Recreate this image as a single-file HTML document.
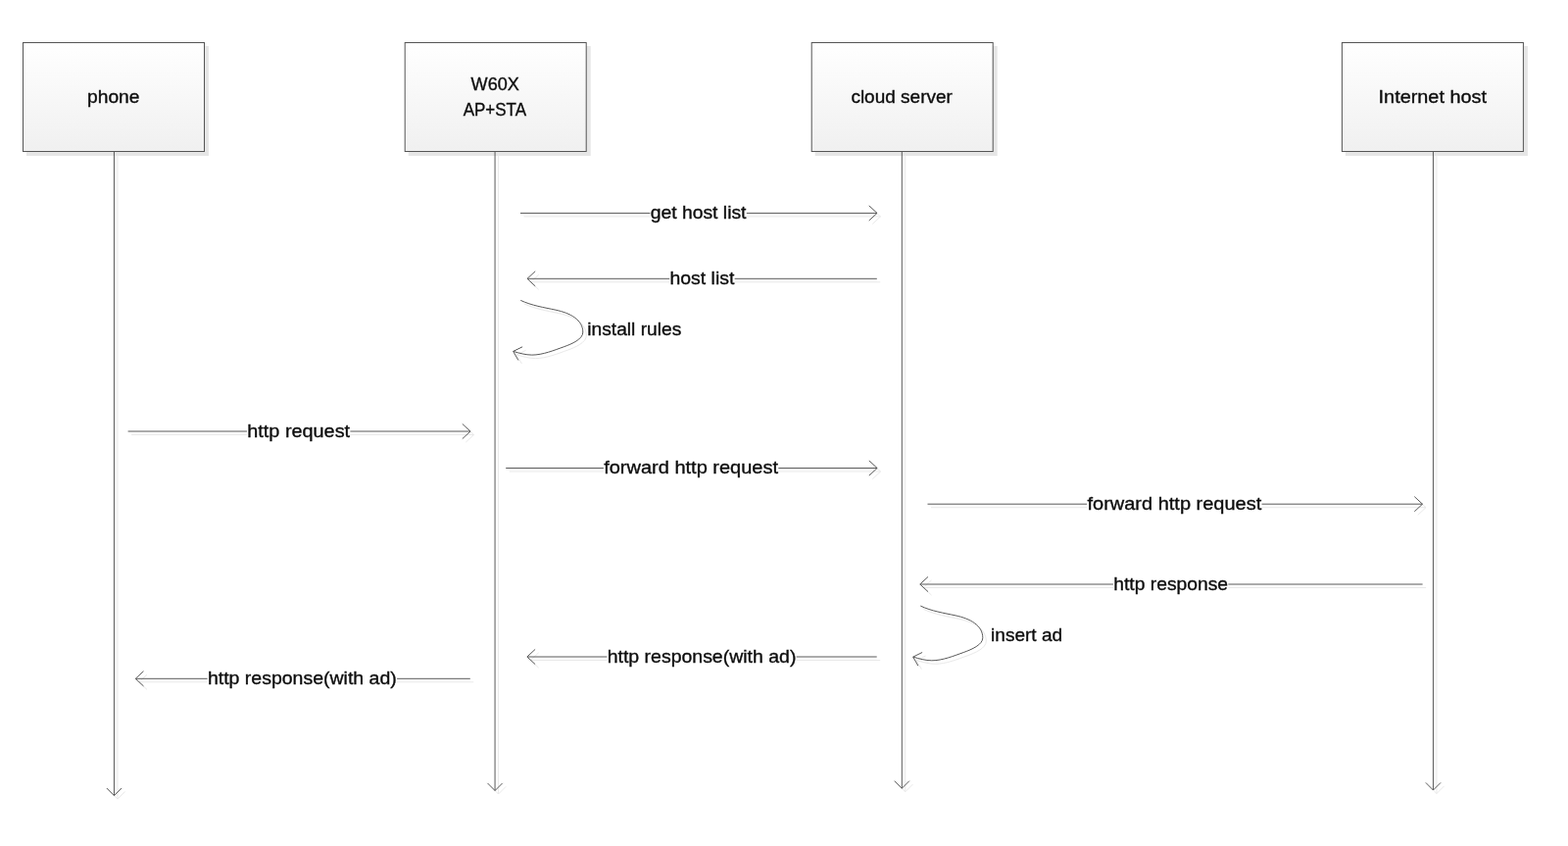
<!DOCTYPE html>
<html lang="en">
<head>
<meta charset="utf-8">
<title>Sequence diagram</title>
<style>
html,body{margin:0;padding:0;background:#fff;}
body{width:1600px;height:863px;overflow:hidden;font-family:"Liberation Sans", sans-serif;}
svg{display:block;will-change:transform;}
text{font-family:"Liberation Sans", sans-serif;font-size:18.6px;fill:#0d0d0d;stroke:#0d0d0d;stroke-width:0.35;}
.ln path{fill:none;stroke:#595959;stroke-width:1;}
.sh path{fill:none;stroke:#e9e9e9;stroke-width:1;}
.box{fill:url(#bg);stroke:#555555;stroke-width:1;}
.bsh{fill:#e6e6e6;}
.mask{fill:#fff;}
</style>
</head>
<body>
<svg width="1600" height="863" viewBox="0 0 1600 863">
<defs>
<linearGradient id="bg" x1="0" y1="0" x2="0" y2="1">
<stop offset="0" stop-color="#ffffff"/>
<stop offset="1" stop-color="#f0f0f0"/>
</linearGradient>
</defs>
<rect x="0" y="0" width="1600" height="863" fill="#ffffff"/>
<rect class="bsh" x="27.0" y="47.0" width="186" height="112"/>
<rect class="bsh" x="416.7" y="47.0" width="186" height="112"/>
<rect class="bsh" x="831.7" y="47.0" width="186" height="112"/>
<rect class="bsh" x="1372.9" y="47.0" width="186" height="112"/>
<g class="sh" transform="translate(3.5 3.5)">
<path d="M116.45 154.5 V811.6 M108.85000000000001 804.0 L116.45 811.6 L124.05 804.0"/>
<path d="M505.07 154.5 V806.5 M497.46999999999997 798.9 L505.07 806.5 L512.67 798.9"/>
<path d="M920.3 154.5 V804.2 M912.6999999999999 796.6 L920.3 804.2 L927.9 796.6"/>
<path d="M1462.45 154.5 V806.0 M1454.8500000000001 798.4 L1462.45 806.0 L1470.05 798.4"/>
<path d="M531.0 217.4 H895.0 M886.8 209.8 L895.0 217.4 L886.8 225.0"/>
<path d="M894.8 284.3 H538.0 M546.2 276.7 L538.0 284.3 L546.2 291.90000000000003"/>
<path d="M130.6 440.0 H480.0 M471.8 432.4 L480.0 440.0 L471.8 447.6"/>
<path d="M516.2 477.5 H895.1 M886.9 469.9 L895.1 477.5 L886.9 485.1"/>
<path d="M946.5 514.2 H1451.5 M1443.3 506.6 L1451.5 514.2 L1443.3 521.8000000000001"/>
<path d="M1451.6 596.0 H938.8 M947.0 588.4 L938.8 596.0 L947.0 603.6"/>
<path d="M894.7 670.0 H537.9 M546.1 662.4 L537.9 670.0 L546.1 677.6"/>
<path d="M479.8 692.3 H138.3 M146.5 684.6999999999999 L138.3 692.3 L146.5 699.9"/>
<g transform="translate(0 0)"><path d="M531.3 306.4 C542.5 311.7 555 313.6 567.1 316.2 C581.8 319.4 594.8 326 594.8 339 C594.8 346 583.3 350.9 575.8 353.6 C565.5 357.3 553.8 362.1 542.8 362.1 C536.3 362.1 529.9 360.2 523.7 358.4"/><path d="M533.1 353.8 L523.7 358.4 L528.9 367.5"/></g>
<g transform="translate(408.0 311.7)"><path d="M531.3 306.4 C542.5 311.7 555 313.6 567.1 316.2 C581.8 319.4 594.8 326 594.8 339 C594.8 346 583.3 350.9 575.8 353.6 C565.5 357.3 553.8 362.1 542.8 362.1 C536.3 362.1 529.9 360.2 523.7 358.4"/><path d="M533.1 353.8 L523.7 358.4 L528.9 367.5"/></g>
</g>
<g class="ln">
<path d="M116.45 154.5 V811.6 M108.85000000000001 804.0 L116.45 811.6 L124.05 804.0"/>
<path d="M505.07 154.5 V806.5 M497.46999999999997 798.9 L505.07 806.5 L512.67 798.9"/>
<path d="M920.3 154.5 V804.2 M912.6999999999999 796.6 L920.3 804.2 L927.9 796.6"/>
<path d="M1462.45 154.5 V806.0 M1454.8500000000001 798.4 L1462.45 806.0 L1470.05 798.4"/>
<path d="M531.0 217.4 H895.0 M886.8 209.8 L895.0 217.4 L886.8 225.0"/>
<path d="M894.8 284.3 H538.0 M546.2 276.7 L538.0 284.3 L546.2 291.90000000000003"/>
<path d="M130.6 440.0 H480.0 M471.8 432.4 L480.0 440.0 L471.8 447.6"/>
<path d="M516.2 477.5 H895.1 M886.9 469.9 L895.1 477.5 L886.9 485.1"/>
<path d="M946.5 514.2 H1451.5 M1443.3 506.6 L1451.5 514.2 L1443.3 521.8000000000001"/>
<path d="M1451.6 596.0 H938.8 M947.0 588.4 L938.8 596.0 L947.0 603.6"/>
<path d="M894.7 670.0 H537.9 M546.1 662.4 L537.9 670.0 L546.1 677.6"/>
<path d="M479.8 692.3 H138.3 M146.5 684.6999999999999 L138.3 692.3 L146.5 699.9"/>
<g transform="translate(0 0)"><path d="M531.3 306.4 C542.5 311.7 555 313.6 567.1 316.2 C581.8 319.4 594.8 326 594.8 339 C594.8 346 583.3 350.9 575.8 353.6 C565.5 357.3 553.8 362.1 542.8 362.1 C536.3 362.1 529.9 360.2 523.7 358.4"/><path d="M533.1 353.8 L523.7 358.4 L528.9 367.5"/></g>
<g transform="translate(408.0 311.7)"><path d="M531.3 306.4 C542.5 311.7 555 313.6 567.1 316.2 C581.8 319.4 594.8 326 594.8 339 C594.8 346 583.3 350.9 575.8 353.6 C565.5 357.3 553.8 362.1 542.8 362.1 C536.3 362.1 529.9 360.2 523.7 358.4"/><path d="M533.1 353.8 L523.7 358.4 L528.9 367.5"/></g>
</g>
<rect class="box" x="23.5" y="43.5" width="185" height="111"/>
<rect class="box" x="413.2" y="43.5" width="185" height="111"/>
<rect class="box" x="828.2" y="43.5" width="185" height="111"/>
<rect class="box" x="1369.4" y="43.5" width="185" height="111"/>
<rect class="mask" x="663.4" y="207.4" width="98.4" height="20"/>
<rect class="mask" x="683.2" y="274.3" width="66.4" height="20"/>
<rect class="mask" x="252.0" y="430.0" width="105.4" height="20"/>
<rect class="mask" x="615.9" y="467.5" width="178.4" height="20"/>
<rect class="mask" x="1109.2" y="504.2" width="178.3" height="20"/>
<rect class="mask" x="1135.9" y="586.0" width="117.5" height="20"/>
<rect class="mask" x="619.4" y="660.0" width="193.3" height="20"/>
<rect class="mask" x="211.6" y="682.3" width="193.5" height="20"/>
<g class="tx">
<text x="89.0" y="105.1" textLength="53.5" lengthAdjust="spacingAndGlyphs">phone</text>
<text x="480.6" y="92.3" textLength="49.2" lengthAdjust="spacingAndGlyphs">W60X</text>
<text x="472.7" y="117.9" textLength="64.4" lengthAdjust="spacingAndGlyphs">AP+STA</text>
<text x="868.4" y="104.9" textLength="103.5" lengthAdjust="spacingAndGlyphs">cloud server</text>
<text x="1406.6" y="104.9" textLength="110.4" lengthAdjust="spacingAndGlyphs">Internet host</text>
<text x="663.7" y="223.1" textLength="97.8" lengthAdjust="spacingAndGlyphs">get host list</text>
<text x="683.5" y="290.0" textLength="65.8" lengthAdjust="spacingAndGlyphs">host list</text>
<text x="252.3" y="445.7" textLength="104.8" lengthAdjust="spacingAndGlyphs">http request</text>
<text x="616.2" y="483.2" textLength="177.8" lengthAdjust="spacingAndGlyphs">forward http request</text>
<text x="1109.5" y="519.9" textLength="177.7" lengthAdjust="spacingAndGlyphs">forward http request</text>
<text x="1136.2" y="601.7" textLength="116.9" lengthAdjust="spacingAndGlyphs">http response</text>
<text x="619.7" y="675.7" textLength="192.7" lengthAdjust="spacingAndGlyphs">http response(with ad)</text>
<text x="211.9" y="698.0" textLength="192.9" lengthAdjust="spacingAndGlyphs">http response(with ad)</text>
<text x="599.3" y="341.8" textLength="96.0" lengthAdjust="spacingAndGlyphs">install rules</text>
<text x="1011.1" y="653.9" textLength="73.0" lengthAdjust="spacingAndGlyphs">insert ad</text>
</g>
</svg>
</body>
</html>
